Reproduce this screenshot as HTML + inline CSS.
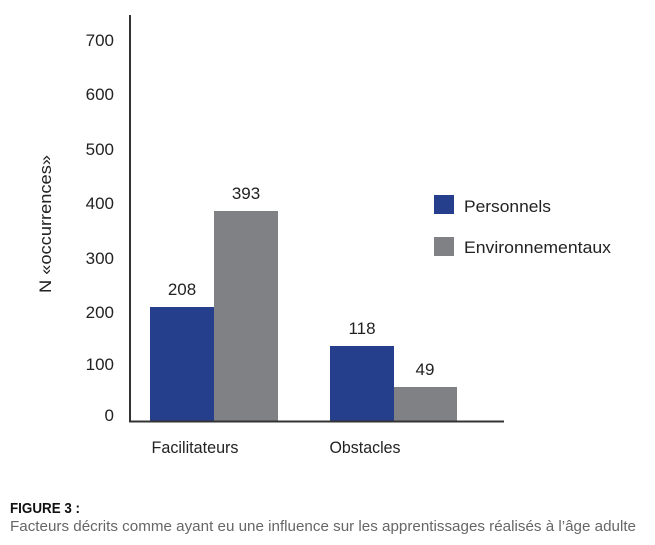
<!DOCTYPE html>
<html><head><meta charset="utf-8"><style>
html,body{margin:0;padding:0;background:#fff;}
svg{display:block;font-family:"Liberation Sans",Arial,sans-serif;}
</style></head><body>
<svg width="655" height="545" viewBox="0 0 655 545" xmlns="http://www.w3.org/2000/svg">
<rect width="655" height="545" fill="#fff"/>
<g fill="#222" font-size="17" text-anchor="end">
<text x="114" y="46">700</text>
<text x="114" y="100">600</text>
<text x="114" y="155">500</text>
<text x="114" y="209">400</text>
<text x="114" y="264">300</text>
<text x="114" y="318">200</text>
<text x="114" y="370">100</text>
<text x="114" y="421">0</text>
</g>
<text transform="translate(51,224) rotate(-90)" text-anchor="middle" font-size="17" fill="#222" textLength="138" lengthAdjust="spacingAndGlyphs">N «occurrences»</text>
<rect x="150" y="307" width="64" height="114" fill="#263f8c"/>
<rect x="214" y="211" width="64" height="210" fill="#808184"/>
<rect x="330" y="346" width="64" height="75" fill="#263f8c"/>
<rect x="394" y="387" width="63" height="34" fill="#808184"/>
<line x1="130" y1="15" x2="130" y2="422" stroke="#333" stroke-width="2"/>
<line x1="129" y1="421.5" x2="504" y2="421.5" stroke="#333" stroke-width="2"/>
<g fill="#222" font-size="17" text-anchor="middle">
<text x="182" y="295">208</text>
<text x="246" y="199">393</text>
<text x="362" y="334">118</text>
<text x="425" y="375">49</text>
<text x="195" y="453" textLength="87" lengthAdjust="spacingAndGlyphs">Facilitateurs</text>
<text x="365" y="453" textLength="71" lengthAdjust="spacingAndGlyphs">Obstacles</text>
</g>
<rect x="434" y="195" width="20" height="19" fill="#263f8c"/>
<rect x="434" y="237" width="20" height="19" fill="#808184"/>
<text x="464" y="212" font-size="17" fill="#222" textLength="87" lengthAdjust="spacingAndGlyphs">Personnels</text>
<text x="464" y="253" font-size="17" fill="#222" textLength="147" lengthAdjust="spacingAndGlyphs">Environnementaux</text>
<text x="10" y="513" font-size="15" font-weight="bold" fill="#111" textLength="70" lengthAdjust="spacingAndGlyphs">FIGURE 3 :</text>
<text x="10" y="531" font-size="15" fill="#666" textLength="626" lengthAdjust="spacingAndGlyphs">Facteurs décrits comme ayant eu une influence sur les apprentissages réalisés à l’âge adulte</text>
</svg>
</body></html>
